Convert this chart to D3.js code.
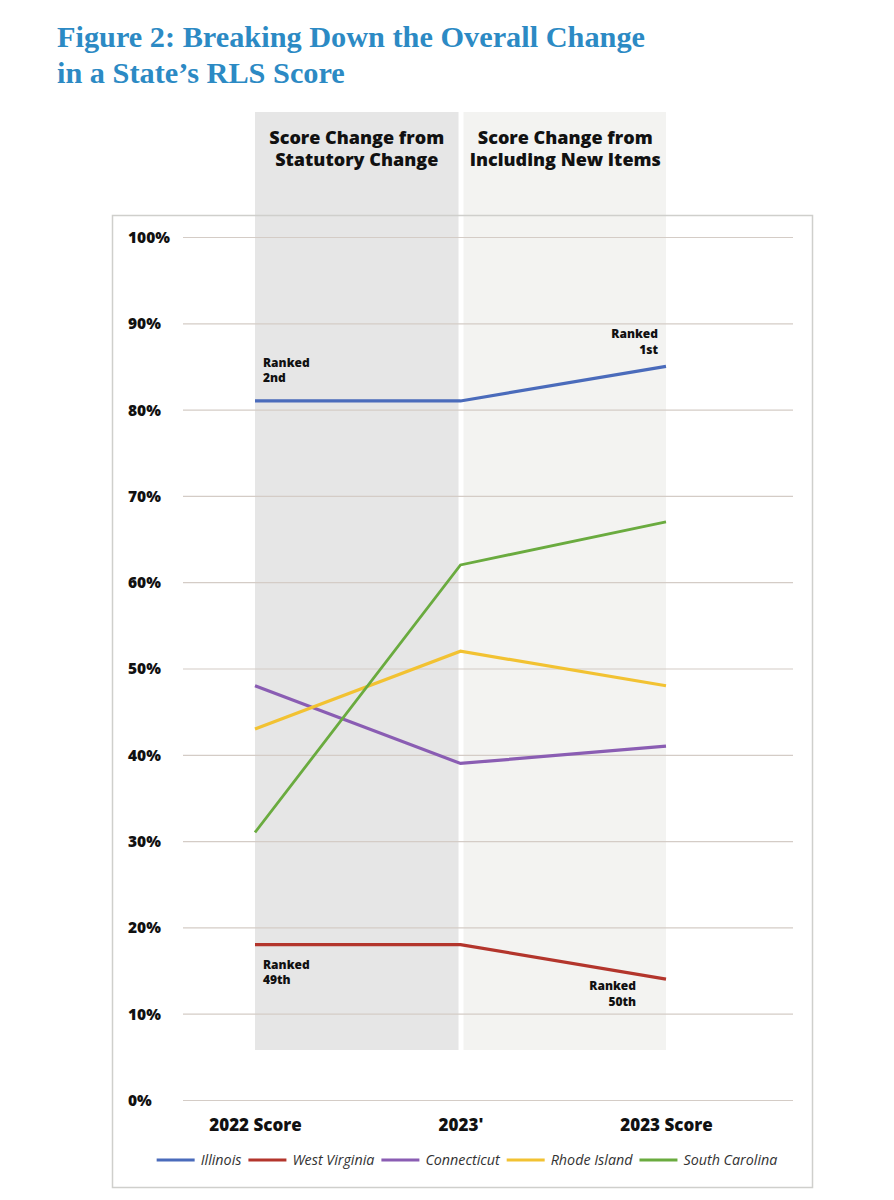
<!DOCTYPE html>
<html>
<head>
<meta charset="utf-8">
<script src="https://cdn.jsdelivr.net/npm/d3@7.9.0/dist/d3.min.js"></script>
<style>
  body { margin: 0; background: #fff; }
  svg { display: block; }
</style>
</head>
<body>
<div id="chart"></div>
<script>
const categories = ["2022 Score", "2023'", "2023 Score"];
const yTicks = [0, 10, 20, 30, 40, 50, 60, 70, 80, 90, 100];
const bandTitles = [
  ["Score Change from", "Statutory Change"],
  ["Score Change from", "Including New Items"]
];
const states = ["Illinois", "West Virginia", "Connecticut", "Rhode Island", "South Carolina"];
const colors = ["#4a6bbb", "#b3352c", "#8a5db3", "#f2c232", "#6aab3f"];
const illinois = [81, 81, 85];
const westVirginia = [18, 18, 14];
const connecticut = [48, 39, 41];
const rhodeIsland = [43, 52, 48];
const southCarolina = [31, 62, 67];
const seriesValues = [illinois, westVirginia, connecticut, rhodeIsland, southCarolina];
// [state index, point index, lines, anchor, dx, dy]
const notes = [
  [0, 0, ["Ranked", "2nd"], "start", 8, -34],
  [0, 2, ["Ranked", "1st"], "end", -8, -28],
  [1, 0, ["Ranked", "49th"], "start", 8, 24],
  [1, 2, ["Ranked", "50th"], "end", -30, 11]
];

const width = 894, height = 1200;
const svg = d3.select("#chart").append("svg")
  .attr("width", width).attr("height", height);

const sans = "'Open Sans', 'Noto Sans', sans-serif";

// title
const title = svg.append("g")
  .attr("font-family", "'Liberation Serif', serif")
  .attr("font-weight", "bold")
  .attr("font-size", 30.3)
  .attr("fill", "#2c8ac4");
title.append("text").attr("x", 57).attr("y", 47).text("Figure 2: Breaking Down the Overall Change");
title.append("text").attr("x", 57).attr("y", 83).text("in a State\u2019s RLS Score");

const x = d3.scalePoint().domain(categories).range([255, 666]);
const y = d3.scaleLinear().domain([0, 100]).range([1100, 237]);

// column bands
const bandTop = 112, bandBottom = 1050;
svg.append("rect")
  .attr("x", x(categories[0])).attr("y", bandTop)
  .attr("width", x(categories[1]) - x(categories[0]) - 2)
  .attr("height", bandBottom - bandTop)
  .attr("fill", "#e6e6e6");
svg.append("rect")
  .attr("x", x(categories[1]) + 3).attr("y", bandTop)
  .attr("width", x(categories[2]) - x(categories[1]) - 3)
  .attr("height", bandBottom - bandTop)
  .attr("fill", "#f3f3f1");

bandTitles.forEach((lines, i) => {
  const cx = (x(categories[i]) + x(categories[i + 1])) / 2 + (i ? 2 : -1);
  const t = svg.append("text")
    .attr("font-family", sans).attr("font-weight", 800)
    .attr("font-size", 18).attr("fill", "#111")
    .attr("text-anchor", "middle");
  lines.forEach((l, j) => t.append("tspan").attr("x", cx).attr("y", 144 + j * 22).text(l));
});

// frame
svg.append("rect")
  .attr("x", 112.5).attr("y", 215.5).attr("width", 700).attr("height", 972)
  .attr("fill", "none").attr("stroke", "#cfcfcc").attr("stroke-width", 1.5);

// grid + y labels
const yAxis = d3.axisLeft(y).tickValues(yTicks).tickSize(-(793 - 183))
  .tickFormat(d => d + "%");
const gy = svg.append("g").attr("transform", "translate(183,0)").call(yAxis);
gy.select(".domain").remove();
gy.selectAll(".tick line").attr("stroke", "#d4ccc6").attr("stroke-width", 1.2);
gy.selectAll(".tick text")
  .attr("x", -55).attr("dy", "0.35em")
  .attr("text-anchor", "start")
  .attr("font-family", sans).attr("font-weight", 800)
  .attr("font-size", 15.5).attr("fill", "#111");

// x labels
const xAxis = d3.axisBottom(x).tickSize(0);
const gx = svg.append("g").attr("transform", "translate(0,1116)").call(xAxis);
gx.select(".domain").remove();
gx.selectAll(".tick text")
  .attr("font-family", sans).attr("font-weight", 800)
  .attr("font-size", 17).attr("fill", "#111");

// lines
const line = d3.line().x((d, i) => x(categories[i])).y(d => y(d));
svg.append("g").selectAll("path")
  .data(seriesValues)
  .join("path")
  .attr("d", line)
  .attr("fill", "none")
  .attr("stroke", (d, i) => colors[i])
  .attr("stroke-width", (d, i) => i === 4 ? 2.8 : 3.2);

// annotations
notes.forEach(([s, p, lines, anchor, dx, dy]) => {
  const px = x(categories[p]) + dx;
  const py = y(seriesValues[s][p]) + dy;
  const t = svg.append("text")
    .attr("font-family", sans).attr("font-weight", 800)
    .attr("font-size", 12).attr("fill", "#111")
    .attr("text-anchor", anchor);
  lines.forEach((l, j) => t.append("tspan").attr("x", px).attr("y", py + j * 15.5).text(l));
});

// legend
const legend = svg.append("g").attr("transform", "translate(0,1160)");
const items = legend.selectAll("g").data(states).join("g");
items.append("line")
  .attr("x1", 0).attr("x2", 38)
  .attr("stroke", (d, i) => colors[i]).attr("stroke-width", 3);
items.append("text")
  .attr("x", 44).attr("dy", "0.35em")
  .attr("font-family", sans).attr("font-style", "italic")
  .attr("font-size", 14.3).attr("fill", "#333")
  .text(d => d);
let cursor = 0;
const offsets = [];
items.each(function () {
  const w = d3.select(this).select("text").node().getComputedTextLength();
  offsets.push(cursor);
  cursor += 44 + w + 7;
});
const start = 467 - (cursor - 7) / 2;
items.attr("transform", (d, i) => `translate(${start + offsets[i]},0)`);
</script>
</body>
</html>
